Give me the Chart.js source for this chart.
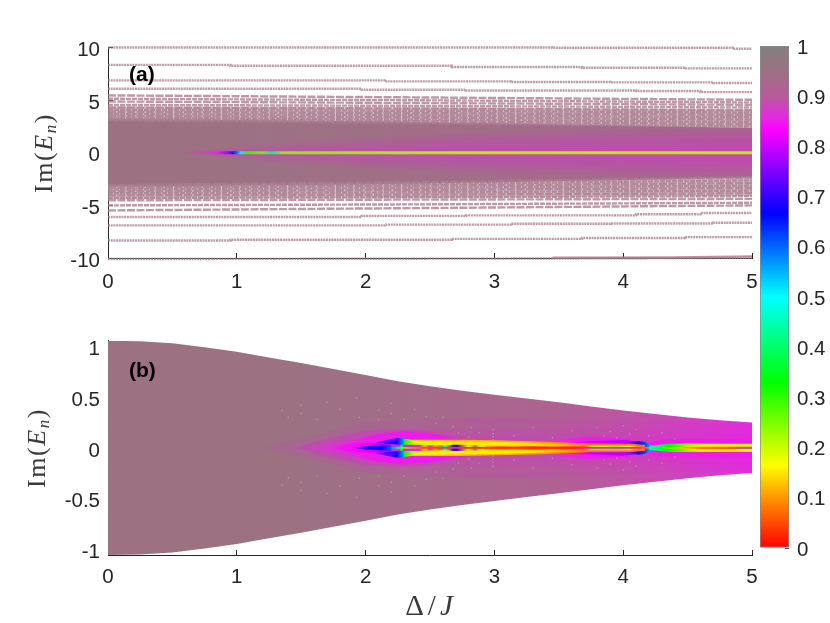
<!DOCTYPE html>
<html><head><meta charset="utf-8">
<script src="https://cdn.jsdelivr.net/npm/chart.js@4"></script>
<style>
html,body{margin:0;padding:0;background:#fff;width:830px;height:623px;overflow:hidden}
canvas{position:absolute}
.t{position:absolute;white-space:nowrap;color:#3a3a3a;font-family:"Liberation Serif",serif;font-size:26px;line-height:1;letter-spacing:1.6px}
.r{transform:translate(-50%,-50%) rotate(-90deg)}
.h{transform:translate(-50%,-50%)}
.p{position:absolute;font:bold 21px "Liberation Sans",sans-serif;color:#000;transform:translateY(-50%)}
sub{font-size:17px;font-style:italic;vertical-align:-4px;line-height:0}
</style></head><body>
<canvas id="ca" width="760" height="300" style="left:0;top:0"></canvas>
<canvas id="cb" width="760" height="323" style="left:0;top:300px"></canvas>
<canvas id="cc" width="90" height="600" style="left:740px;top:0"></canvas>
<div class="t r" style="left:44px;top:153px">Im(<i>E</i><sub>n</sub>)</div>
<div class="t r" style="left:37px;top:448px">Im(<i>E</i><sub>n</sub>)</div>
<div class="t h" style="left:431px;top:605px;letter-spacing:4px;font-size:29px">Δ/<i>J</i></div>
<div class="p" style="left:129px;top:74px">(a)</div>
<div class="p" style="left:129px;top:370px">(b)</div>
<script>
// ---- axis ticks
const xTicks=[0,1,2,3,4,5];
const yTicksA=[-10,-5,0,5,10];
const yTicksB=[-1,-0.5,0,0.5,1];
const barTicks=[0,0.1,0.2,0.3,0.4,0.5,0.6,0.7,0.8,0.9,1];
// ---- colour scale
const mapValues=[0,0.1,0.165,0.33,0.5,0.667,0.833,0.86,0.9,0.95,1];
const mapColors=[[255,0,0],[255,150,0],[255,255,0],[0,255,0],[0,255,255],[0,0,255],[255,0,255],[226,44,222],[184,90,154],[156,114,131],[128,128,128]];
// ---- panel (a): isolated levels
const a1X=[0,3.45,4.85,5],a1Y=[10,9.97,9.88,9.88];
const a2X=[0,.95,2.67,3.68,4.48,5],a2Y=[8.35,8.27,8.15,8.08,8.02,8.02];
const a3X=[0,2.15,3.13,3.9,4.7,5],a3Y=[6.88,6.78,6.72,6.69,6.62,6.62];
const a4X=[0,1.97,2.78,4.1,4.6,5],a4Y=[6.08,5.99,5.92,5.86,5.76,5.76];
const a5X=[0,3.45,5],a5Y=[-10.1,-10.05,-9.98];
const a5bX=[3.45,4.4,5],a5bY=[-9.98,-9.95,-9.85];
const a6X=[0,.95,2.67,3.68,4.48,5],a6Y=[-8.34,-8.27,-8.18,-8.1,-8.02,-8.02];
const a7X=[0,2.15,3.13,3.9,4.7,5],a7Y=[-6.9,-6.83,-6.75,-6.72,-6.65,-6.65];
const a8X=[0,1.97,2.78,4.1,4.6,5],a8Y=[-6.1,-6,-5.95,-5.85,-5.73,-5.73];
// ---- panel (a): denser levels, at Delta = 0, 2.5, 5
const rowX=[0,2.5,5];
const rowsUpper=[[5.45,5.25,5.03],[5.13,4.98,4.78],[4.87,4.72,4.55],[4.55,4.45,4.3],[4.3,4.2,4.05],[4.08,3.98,3.82],[3.88,3.76,3.6],[3.68,3.55,3.38],[3.5,3.35,3.15],[3.33,3.15,2.92],[3.2,2.98,2.7],[3.1,2.82,2.48]];
const rowsLower=[[-5.48,-5.25,-5],[-5,-4.9,-4.75],[-4.52,-4.45,-4.38],[-4.3,-4.22,-4.12],[-4.05,-3.98,-3.85],[-3.85,-3.75,-3.6],[-3.66,-3.52,-3.35],[-3.48,-3.32,-3.12],[-3.32,-3.12,-2.88],[-3.18,-2.95,-2.62],[-3.08,-2.78,-2.35]];
// ---- panel (a): continuum and zero mode
const aLadderX=[0,2.5,5],aLadderH=[4.4,4.3,4.1];
const aBandX=[0,1,2,3,4,5],aBandH=[3.2,3.1,3,2.8,2.6,2.35],aBandV=[.95,.95,.945,.94,.935,.93];
const aGlow1X=[.5,1,2,3,4,5],aGlow1H=[0,.6,1.4,1.9,2.1,2.2];
const aGlow2X=[.55,1,2,3,4,5],aGlow2H=[0,.4,1,1.45,1.7,1.85];
const aGlow3X=[.6,1,2,3,4,5],aGlow3H=[0,.25,.6,1,1.25,1.4];
const aGlow4X=[.7,1,2,3,4,5],aGlow4H=[0,.14,.3,.5,.7,.8];
const aZeroX=[.55,.75,.85,.93,.97,1,1.03,1.07,1.2,1.27,1.35,2,3,5];
const aZeroV=[.95,.89,.85,.76,.68,.6,.5,.3,.25,.42,.24,.22,.2,.2];
const aZeroH=[.03,.08,.12,.14,.14,.14,.15,.15,.15,.15,.15,.15,.15,.15];
// ---- panel (b): outer envelope
const bEnvX=[0,.25,.5,.75,1,1.25,1.5,1.75,2,2.25,2.5,2.75,3,3.25,3.5,3.75,4,4.25,4.5,4.75,5];
const bEnvH=[1.06,1.055,1.035,.995,.95,.895,.84,.78,.72,.66,.61,.565,.525,.487,.45,.41,.37,.335,.3,.272,.25];
const bEnvColorX=[0,1.5,2.5,3.5,4,4.75,5],bEnvV=[.95,.95,.935,.915,.895,.87,.86];
// ---- panel (b): soft glow towards the centre
const bGlow1X=[1.2,2,2.5,3,3.5,4,4.5,5],bGlow1H=[0,.25,.28,.3,.28,.26,.24,.22];
const bGlow2X=[1.5,2,2.5,3,3.5,4,4.5,5],bGlow2H=[0,.15,.18,.19,.19,.18,.17,.16];
const bGlow3X=[1.6,2,2.5,3,3.5,4,4.5,5],bGlow3H=[0,.1,.12,.12,.13,.13,.12,.12];
// ---- panel (b): inner lobes
const softLobeX=[1.45,1.7,2,2.27,2.5,2.78,2.9],softLobeH=[0,.09,.17,.19,.17,.09,.05];
const lobeX=[1.6,1.85,2.06,2.27,2.47,2.76,2.85],lobeH=[0,.06,.13,.165,.15,.08,.05],lobeV=[.87,.86,.85,.85,.85,.85,.85];
const coreX=[1.72,1.9,2.05,2.2],coreH=[0,.045,.05,.03],coreV=[.86,.84,.82,.75];
const blueX=[1.9,2.02,2.12,2.2,2.27],blueH=[0,.018,.024,.016,.008],blueV=[.74,.68,.67,.6,.42];
const wingX=[2.07,2.15,2.24,2.3],wingLo=[.05,.04,.032,.028],wingHi=[.05,.072,.095,.1],wingV=[.8,.72,.68,.55];
const rightLobeX=[3.47,3.72,4.03,4.17,4.22],rightLobeH=[.08,.11,.09,.04,.01],rightLobeV=[.86,.85,.85,.84,.84];
const rightPurpleX=[3.55,3.72,4,4.17],rightPurpleH=[.05,.065,.078,.05],rightPurpleV=[.83,.81,.79,.74];
const rightBlueX=[4.05,4.12,4.17,4.24],rightBlueH=[.05,.068,.058,.014],rightBlueV=[.75,.68,.62,.5];
const tailX=[4.1,4.3,5],tailH=[.02,.085,.09],tailV=[.85,.85,.85];
// ---- panel (b): central bright band
const orangeX=[2.27,2.35,2.76,3,3.3,3.6,3.75,4.07,4.17],orangeH=[.09,.08,.08,.074,.066,.05,.042,.04,.028],orangeV=[.3,.13,.115,.115,.105,.09,.08,.08,.08];
const yellowX=[2.27,2.3,2.38,2.76,3,3.3,3.55,3.7],yellowH=[.088,.088,.07,.066,.06,.05,.035,.02],yellowV=[.36,.33,.19,.15,.155,.145,.12,.1];
const gapX=[2.29,2.42,2.46,2.5,2.54,2.58,2.62,2.65,2.68,2.71,2.75,2.8,2.85,2.9,2.95,3.05,3.15,3.3,3.45,3.6,3.7,3.75,3.85,3.95,4.05,4.12,4.17];
const gapH=[.03,.03,.028,.026,.026,.024,.026,.026,.03,.03,.03,.028,.026,.024,.02,.02,.02,.018,.018,.016,.018,.024,.024,.024,.024,.022,.02];
const gapV=[.84,.86,.12,.85,.1,.92,.5,.95,.7,.68,.9,.2,.95,.2,.1,.08,.1,.06,.09,.04,.06,.25,.22,.25,.2,.08,.08];
const threadX=[2.2,2.3,2.45,3,3.5,3.75,4.1,4.2],threadH=[.006,.008,.008,.008,.008,.009,.009,.009],threadV=[.55,.25,.05,.03,.02,.84,.84,.08];
const rightGreenX=[4.2,4.35,4.5,4.75,5],rightGreenH=[.018,.04,.042,.04,.04],rightGreenV=[.45,.33,.24,.2,.2];
const rightYellowX=[4.4,4.6,4.85,5],rightYellowH=[0,.028,.03,.028],rightYellowV=[.2,.16,.15,.15];
const rightCoreX=[4.3,4.6,4.85,4.9,5],rightCoreH=[.005,.012,.012,.012,.012],rightCoreV=[.16,.08,.06,.9,.95];
// ---- panel (b): pale speckles (mirrored about zero)
const speckX=[1.35,1.4,1.5,1.5,1.62,1.7,1.8,1.93,1.95,2.1,2.1,2.2,2.2,2.3,2.38,2.47,2.55,2.6,2.68,2.72,2.8,2.82,2.88,2.99,2.99,2.99,2.99,3.15,3.3,3.45,3.6,3.8,3.85,3.9,3.95,4,4.05,4.1,4.2,4.3,4.4];
const speckY=[.37,.3,.42,.34,.28,.45,.38,.49,.3,.376,.28,.44,.34,.28,.38,.31,.24,.3,.21,.15,.11,.2,.15,.08,.11,.14,.18,.12,.2,.1,.17,.2,.12,.16,.1,.22,.14,.18,.12,.15,.09];

function colorOf(v,a){
  let i=0;while(i<mapValues.length-2&&v>mapValues[i+1])i++;
  const t=(v-mapValues[i])/(mapValues[i+1]-mapValues[i]);
  const c=mapColors[i].map((q,k)=>Math.round(q+(mapColors[i+1][k]-q)*t));
  return `rgba(${c[0]},${c[1]},${c[2]},${a===undefined?1:a})`;
}
function gradientFill(xs,vs,a){
  return ctx=>{
    const sc=ctx.chart.scales.x; if(!sc) return colorOf(vs[0],a);
    const x0=sc.getPixelForValue(xs[0]),x1=sc.getPixelForValue(xs[xs.length-1]);
    if(!isFinite(x0)||!isFinite(x1)) return colorOf(vs[0],a);
    const g=ctx.chart.ctx.createLinearGradient(x0,0,x1,0);
    xs.forEach((x,i)=>g.addColorStop((x-xs[0])/(xs[xs.length-1]-xs[0]),colorOf(vs[i],a)));
    return g;
  };
}
const pts=(xs,ys,sign=1)=>xs.map((x,i)=>({x,y:sign*ys[i]}));
const edge=(xs,ys,sign)=>({data:pts(xs,ys,sign),showLine:true,borderWidth:0,pointRadius:0,fill:false});
function band(xs,hs,fillStyle){
  return [edge(xs,hs,1),Object.assign(edge(xs,hs,-1),{fill:'-1',backgroundColor:fillStyle})];
}
function ring(xs,lo,hi,fillStyle){
  return [edge(xs,lo,1),Object.assign(edge(xs,hi,1),{fill:'-1',backgroundColor:fillStyle}),
          edge(xs,lo,-1),Object.assign(edge(xs,hi,-1),{fill:'-1',backgroundColor:fillStyle})];
}
// Chart.js paints the first dataset last, so layers listed outer -> inner are reversed.
const stack=layers=>layers.slice().reverse().flat();
const line=(xs,ys,w,dash,col)=>({data:pts(xs,ys),showLine:true,borderColor:col,borderWidth:w,borderDash:dash,pointRadius:0,fill:false,stepped:false,clip:3});
const stepLine=(xs,ys,w,dash,col)=>Object.assign(line(xs,ys,w,dash,col),{stepped:'before'});

const tickFont={family:'"Liberation Sans"',size:20.5};
function axisOptions(ticks,size,isX,pad,shift,extra){
  return Object.assign({type:'linear',
    grid:{drawOnChartArea:false,color:'#262626',lineWidth:1,tickLength:-5,drawTicks:true},
    border:{display:true,color:'#262626',width:1},
    afterBuildTicks:s=>{s.ticks=ticks.map(value=>({value}));},
    afterFit:s=>{if(isX)s.height=size;else s.width=size;s.paddingLeft=s.paddingRight=s.paddingTop=s.paddingBottom=0;},
    ticks:{autoSkip:false,maxRotation:0,minRotation:0,color:'#262626',font:tickFont,padding:pad,labelOffset:shift,callback:v=>String(v)}
  },extra);
}
function panel(id,datasets,top,xH,xPad,yTicks,yMin,yMax){
  return new Chart(document.getElementById(id),{type:'scatter',data:{datasets},
    options:{responsive:false,animation:false,events:[],
      layout:{padding:{top,right:8,left:0,bottom:0}},
      plugins:{legend:{display:false},tooltip:{enabled:false},filler:{propagate:false}},
      scales:{x:axisOptions(xTicks,xH,true,xPad,0,{min:0,max:5}),y:axisOptions(yTicks,108,false,13,3,{min:yMin,max:yMax})}}});
}
const mag=a=>`rgba(238,25,238,${a})`;
const LC='rgba(165,120,136,.75)',RC='rgba(170,128,145,.8)';
const aLayers=[
  band(aLadderX,aLadderH,'rgba(172,132,150,.55)'),
  band(aBandX,aBandH,gradientFill(aBandX,aBandV)),
  band(aGlow1X,aGlow1H,mag(.1)),band(aGlow2X,aGlow2H,mag(.1)),band(aGlow3X,aGlow3H,mag(.1)),band(aGlow4X,aGlow4H,mag(.14)),
  band(aZeroX,aZeroH,gradientFill(aZeroX,aZeroV,.85))
];
const aLines=[
  stepLine(a1X,a1Y,2.4,[2,.7],LC),stepLine(a2X,a2Y,2.4,[2,.7],LC),stepLine(a3X,a3Y,2.4,[2,.7],LC),stepLine(a4X,a4Y,2.4,[2,.7],LC),
  line(a5X,a5Y,2.4,[2,.7],LC),line(a5bX,a5bY,2.4,[],LC),stepLine(a6X,a6Y,2.4,[2,.7],LC),stepLine(a7X,a7Y,2.4,[2,.7],LC),stepLine(a8X,a8Y,2.4,[2,.7],LC),
  ...rowsUpper.concat(rowsLower).map((r,i)=>line(rowX,r,2.4,i%2?[5,1]:[8,1.5],RC))
];
panel('ca',[...aLines,...stack(aLayers)],47.5,42,17.5,yTicksA,-10,10);

const speck={data:speckX.flatMap((x,i)=>[{x,y:speckY[i]},{x,y:-speckY[i]}]),pointStyle:'rect',pointRadius:1,borderWidth:0,backgroundColor:'rgba(240,225,232,.3)'};
const bLayers=[
  band(bEnvX,bEnvH,gradientFill(bEnvColorX,bEnvV)),
  band(bGlow1X,bGlow1H,mag(.11)),band(bGlow2X,bGlow2H,mag(.11)),band(bGlow3X,bGlow3H,mag(.11)),
  band(softLobeX,softLobeH,mag(.3)),
  band(lobeX,lobeH,gradientFill(lobeX,lobeV)),
  band(coreX,coreH,gradientFill(coreX,coreV)),
  band(tailX,tailH,gradientFill(tailX,tailV)),
  band(rightLobeX,rightLobeH,gradientFill(rightLobeX,rightLobeV)),
  band(rightPurpleX,rightPurpleH,gradientFill(rightPurpleX,rightPurpleV)),
  band(rightBlueX,rightBlueH,gradientFill(rightBlueX,rightBlueV)),
  band(orangeX,orangeH,gradientFill(orangeX,orangeV)),
  band(yellowX,yellowH,gradientFill(yellowX,yellowV)),
  band(gapX,gapH,gradientFill(gapX,gapV)),
  ring(wingX,wingLo,wingHi,gradientFill(wingX,wingV)),
  band(blueX,blueH,gradientFill(blueX,blueV)),
  band(threadX,threadH,gradientFill(threadX,threadV)),
  band(rightGreenX,rightGreenH,gradientFill(rightGreenX,rightGreenV)),
  band(rightYellowX,rightYellowH,gradientFill(rightYellowX,rightYellowV)),
  band(rightCoreX,rightCoreH,gradientFill(rightCoreX,rightCoreV))
];
panel('cb',[speck,...stack(bLayers)],40.7,68,15,yTicksB,-1.06,1.06);

// colour bar
new Chart(document.getElementById('cc'),{type:'bar',
  data:{labels:['c'],datasets:[{data:[[0,1]],barPercentage:1,categoryPercentage:1,borderWidth:1,borderSkipped:false,borderColor:'#8a8a8a',
    backgroundColor:ctx=>{
      const s=ctx.chart.scales.y; if(!s) return '#888';
      const p0=s.getPixelForValue(0),p1=s.getPixelForValue(1);
      if(!isFinite(p0)||!isFinite(p1)) return '#888';
      const g=ctx.chart.ctx.createLinearGradient(0,p0,0,p1);
      mapValues.forEach((v,i)=>g.addColorStop(v,colorOf(v)));
      return g;
    }}]},
  options:{responsive:false,animation:false,events:[],
    layout:{padding:{top:46,bottom:52,left:20,right:0}},
    plugins:{legend:{display:false},tooltip:{enabled:false}},
    scales:{x:{display:false},
      y:Object.assign(axisOptions(barTicks,41,false,12,2,{min:0,max:1,position:'right'}),{
        border:{display:false},
        grid:{drawOnChartArea:false,color:'#555',lineWidth:1,tickLength:-4}})}}});
</script></body></html>
